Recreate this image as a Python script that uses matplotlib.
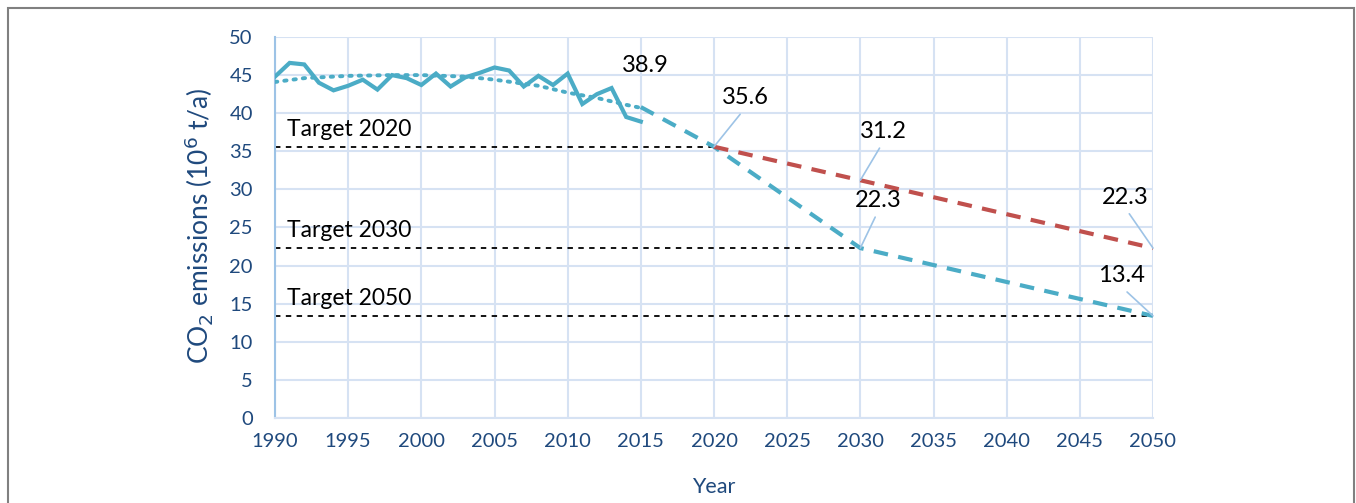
import matplotlib.pyplot as plt
from matplotlib.patches import Rectangle

# historical emissions (10^6 t/a)
hist_years = list(range(1990, 2016))
hist_values = [44.8, 46.6, 46.4, 44.0, 43.0, 43.6, 44.4, 43.1, 45.0, 44.6,
               43.7, 45.2, 43.5, 44.7, 45.3, 46.0, 45.6, 43.5, 44.9, 43.7,
               45.2, 41.2, 42.5, 43.3, 39.5, 38.9]

# trend line (dotted)
trend_years = [1990, 1992, 1995, 1998, 2000, 2003, 2005, 2008, 2010, 2012, 2014, 2015]
trend_values = [44.1, 44.6, 44.9, 45.0, 45.0, 44.8, 44.4, 43.6, 42.7, 42.0, 41.1, 40.7]

# projections
proj_years = [2015, 2020, 2030, 2050]
proj_values = [40.8, 35.6, 22.3, 13.4]
bau_years = [2020, 2030, 2050]
bau_values = [35.6, 31.2, 22.3]

# targets
target_names = ['Target 2020', 'Target 2030', 'Target 2050']
target_years = [2020, 2030, 2050]
target_values = [35.6, 22.3, 13.4]

CYAN = '#4BACC6'
RED = '#C0504D'
GRID = '#D6E2F3'
TICK = '#1F497D'
LEADER = '#9DC3E6'

plt.rcParams['font.family'] = ['Lato', 'DejaVu Sans']

fig = plt.figure(figsize=(13.56, 5.03), dpi=100)
ax = fig.add_axes([275 / 1356, 85 / 503, 878 / 1356, 381 / 503])

# outer frame
fig.patches.append(Rectangle((8 / 1356, -0.1), 1346 / 1356, 1.1 - 8 / 503,
                             transform=fig.transFigure, fill=False,
                             edgecolor='#808080', linewidth=1.5))

for name, yr, val in zip(target_names, target_years, target_values):
    ax.plot([1990, yr], [val, val], color='black', linestyle=(0, (3, 3)), linewidth=1.3, zorder=2)
    ax.text(1990.8, val + 2.3, name, fontsize=16.5, va='center', ha='left', color='black')

ax.plot(hist_years, hist_values, color=CYAN, linewidth=3, solid_joinstyle='miter', zorder=4)
ax.plot(trend_years, trend_values, color=CYAN, linewidth=2.8, linestyle=(0, (0.6, 1.8)),
        dash_capstyle='round', zorder=3)
ax.plot(proj_years, proj_values, color=CYAN, linewidth=3, linestyle=(0, (3.5, 2.5)), zorder=4)
ax.plot(bau_years, bau_values, color=RED, linewidth=3, linestyle=(0, (3.5, 2.5)), zorder=4)

# value labels with leader lines
labels = [
    (2015, 38.9, (5, 56), False),
    (2020, 35.6, (31, 49), True),
    (2030, 31.2, (23, 49), True),
    (2030, 22.3, (18, 48), True),
    (2050, 22.3, (-28, 51), True),
    (2050, 13.4, (-32, 40), True),
]
for x, y, off, leader in labels:
    props = None
    if leader:
        props = dict(arrowstyle='-', color=LEADER, linewidth=1.2,
                     relpos=(0.5, 0.0), shrinkA=3, shrinkB=0)
    ax.annotate(f'{y:.1f}', xy=(x, y), xytext=off, textcoords='offset pixels',
                fontsize=17, ha='center', va='center', color='black',
                arrowprops=props, annotation_clip=False, zorder=5)

ax.set_xlim(1990, 2050)
ax.set_ylim(0, 50)
ax.set_xticks(range(1990, 2051, 5))
ax.set_yticks(range(0, 51, 5))
ax.grid(True, color=GRID, linewidth=1.5)
ax.set_axisbelow(True)
for side in ['top', 'right']:
    ax.spines[side].set_visible(False)
ax.spines['left'].set_color(LEADER)
ax.spines['left'].set_linewidth(1.5)
ax.spines['bottom'].set_color(GRID)
ax.spines['bottom'].set_linewidth(1.5)
ax.tick_params(axis='y', length=0, pad=16, labelsize=14.5, labelcolor=TICK)
ax.tick_params(axis='x', length=0, pad=11, labelsize=14.5, labelcolor=TICK)

ax.set_xlabel('Year', fontsize=15.5, color=TICK)
ax.set_ylabel('CO$_2$ emissions (10$^6$ t/a)', fontsize=19, color=TICK)
ax.xaxis.set_label_coords(0.5, -0.155)
ax.yaxis.set_label_coords(-0.068, 0.504)

fig.savefig('out.png', dpi=100)
